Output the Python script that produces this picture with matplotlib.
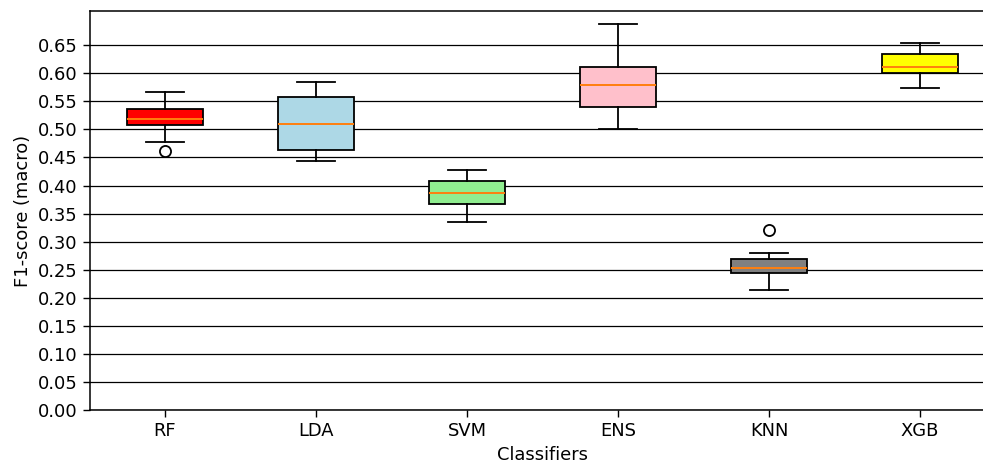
import matplotlib
matplotlib.use("Agg")
import matplotlib.pyplot as plt
import numpy as np

classifiers = ["RF", "LDA", "SVM", "ENS", "KNN", "XGB"]
whislo = [0.478, 0.444, 0.335, 0.501, 0.214, 0.574]
q1 = [0.508, 0.463, 0.367, 0.540, 0.245, 0.601]
med = [0.519, 0.510, 0.386, 0.579, 0.253, 0.611]
q3 = [0.536, 0.557, 0.408, 0.610, 0.269, 0.634]
whishi = [0.566, 0.584, 0.427, 0.687, 0.280, 0.653]
fliers = [[0.461], [], [], [], [0.320], []]
colors = ["red", "lightblue", "lightgreen", "pink", "gray", "yellow"]

stats = []
for i, name in enumerate(classifiers):
    stats.append(dict(label=name, whislo=whislo[i], q1=q1[i], med=med[i],
                      q3=q3[i], whishi=whishi[i], fliers=fliers[i]))

fig = plt.figure(figsize=(9.83, 4.66), dpi=100)
ax = fig.add_axes([89.5 / 983, 55.7 / 466, 906 / 983, 399.3 / 466])
ax.set_axisbelow(True)
ax.yaxis.grid(True, color="black", linewidth=0.9)

bp = ax.bxp(stats, patch_artist=True, widths=0.5,
            boxprops=dict(linewidth=1.3, edgecolor="black"),
            whiskerprops=dict(linewidth=1.3, color="black"),
            capprops=dict(linewidth=1.3, color="black"),
            medianprops=dict(linewidth=1.4, color="#ff7f0e"),
            flierprops=dict(marker="o", markerfacecolor="none",
                            markeredgecolor="black", markersize=8,
                            markeredgewidth=1.3))
for patch, c in zip(bp["boxes"], colors):
    patch.set_facecolor(c)

ax.set_xlim(0.5, 6.5)
ax.set_ylim(0, 0.7105)
ax.set_yticks(np.arange(0, 0.651, 0.05))
ax.set_yticklabels([f"{v:.2f}" for v in np.arange(0, 0.651, 0.05)])
ax.tick_params(labelsize=12.9, length=5, width=1)
ax.set_xlabel("Classifiers", fontsize=12.9)
ax.set_ylabel("F1-score (macro)", fontsize=12.9)
for s in ax.spines.values():
    s.set_linewidth(1.1)

fig.savefig("out.png", dpi=100)
